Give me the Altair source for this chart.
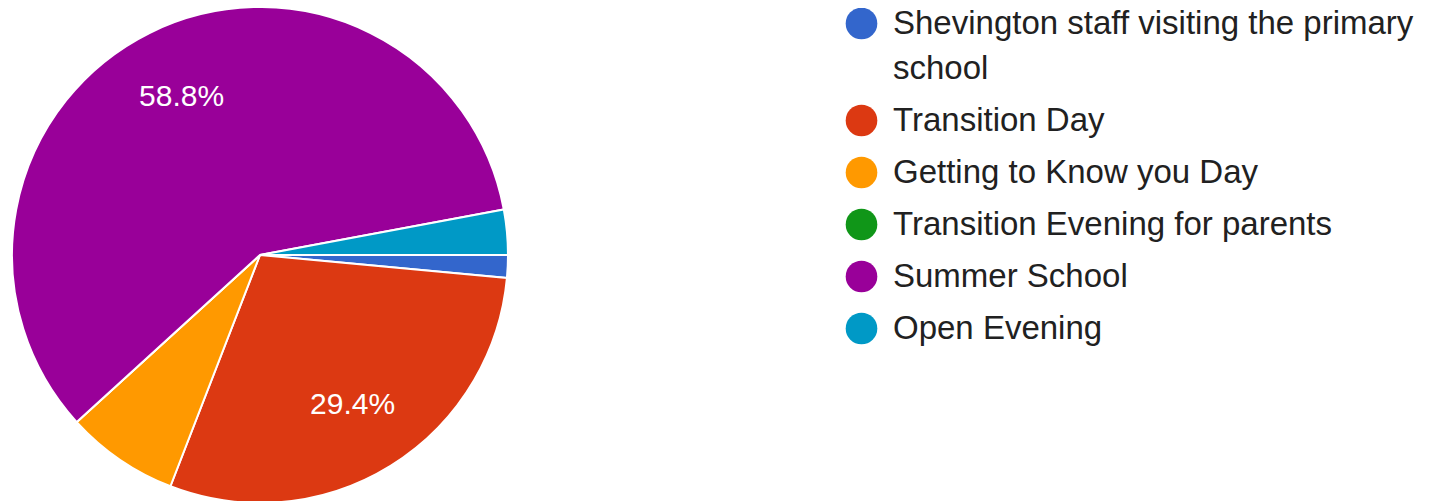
import math
import altair as alt
import pandas as pd

categories = [
    "Shevington staff visiting the primary school",
    "Transition Day",
    "Getting to Know you Day",
    "Transition Evening for parents",
    "Summer School",
    "Open Evening",
]
counts = [1, 20, 5, 0, 40, 2]
colors = ["#3366cc", "#dc3912", "#ff9900", "#109618", "#990099", "#0099c6"]

total = sum(counts)
df = pd.DataFrame({
    "category": categories,
    "count": counts,
    "order": list(range(len(categories))),
})
df["label"] = [f"{c / total * 100:.1f}%" if c / total >= 0.1 else "" for c in counts]

label_expr = (
    "datum.label == 'Shevington staff visiting the primary school' ? "
    "['Shevington staff visiting the primary', 'school'] : datum.label"
)

base = alt.Chart(df).encode(
    theta=alt.Theta("count:Q", stack=True,
                    scale=alt.Scale(range=[math.pi / 2, math.pi / 2 + 2 * math.pi])),
    order=alt.Order("order:Q"),
    x=alt.value(252),
    y=alt.value(247),
)

arcs = base.mark_arc(outerRadius=248, stroke="white", strokeWidth=2).encode(
    color=alt.Color(
        "category:N",
        scale=alt.Scale(domain=categories, range=colors),
        legend=alt.Legend(
            title=None,
            orient="none",
            legendX=837,
            legendY=-1,
            symbolType="circle",
            symbolSize=1000,
            symbolStrokeWidth=0,
            labelFontSize=33,
            labelFont="Liberation Sans",
            labelColor="#212121",
            labelOffset=15,
            rowPadding=18,
            labelLimit=900,
            padding=0,
            labelExpr=label_expr,
        ),
    )
)

texts = base.mark_text(radius=176, fontSize=30, color="white",
                       font="Liberation Sans").encode(text="label:N")

chart = (
    alt.layer(arcs, texts)
    .properties(width=1415, height=495, autosize=alt.AutoSizeParams(type="none"), padding=0)
    .configure(style={"guide-label": {"lineHeight": 45}})
    .configure_view(stroke=None)
)

chart.save("out.html", embed_options={"renderer": "svg", "actions": False})
